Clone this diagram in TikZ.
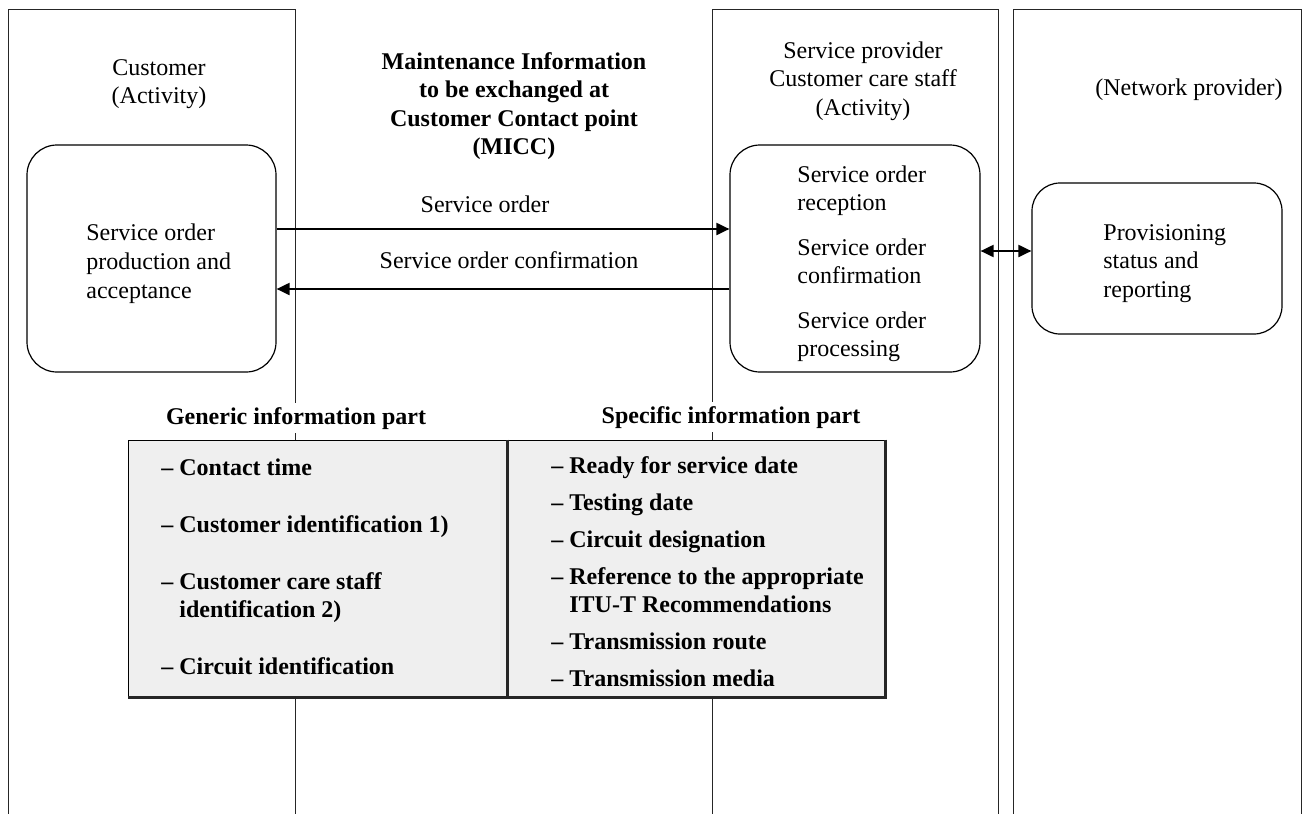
\documentclass[tikz,border=0pt]{standalone}
\usepackage{fontspec}
\setmainfont{Liberation Serif}
\usetikzlibrary{arrows.meta}

\definecolor{panelgray}{HTML}{EFEFEF}

% multi-line text blocks whose base anchor is the first baseline
\newcommand\linesc[1]{\begin{tabular}[t]{@{}c@{}}#1\end{tabular}}
\newcommand\linesl[1]{\begin{tabular}[t]{@{}l@{}}#1\end{tabular}}
\newcommand\itemlist[1]{\begin{tabular}[t]{@{}l@{\ }l@{}}#1\end{tabular}}

\tikzset{
  lane/.style={draw=black!85, line width=0.5pt},
  activity/.style={draw, line width=0.6pt, rounded corners=15pt, inner sep=0pt},
  flow/.style={line width=1pt, -{Triangle[length=6.5pt,width=6pt]}},
  flowboth/.style={line width=1pt, {Triangle[length=6.5pt,width=6pt]}-{Triangle[length=6.5pt,width=6pt]}},
  txt/.style={inner sep=0pt, font=\fontsize{12}{14}\selectfont},
  bold/.style={inner sep=0pt, font=\fontsize{12}{14.25}\selectfont\bfseries},
  panel/.style={fill=panelgray, draw=black, line width=0.5pt, inner sep=0pt},
  panelshade/.style={draw=black!85, line width=1.2pt},
  heading/.style={fill=white, inner sep=2pt, font=\fontsize{12}{14}\selectfont\bfseries}
}

\begin{document}
\begin{tikzpicture}[x=0.5pt, y=-0.5pt]
\useasboundingbox (0,0) rectangle (1302,814);

% swim lanes (open at the bottom)
\draw[lane] (8,814) -- (8,9) -- (295,9) -- (295,814);
\draw[lane] (712,814) -- (712,9) -- (998,9) -- (998,814);
\draw[lane] (1013,814) -- (1013,9) -- (1301,9) -- (1301,814);

% lane titles
\node[txt, anchor=base] (custtitle) at (159,75) {\linesc{Customer\\(Activity)}};
\node[bold, anchor=base] (micc) at (514,69)
  {\linesc{Maintenance Information\\to be exchanged at\\Customer Contact point\\(MICC)}};
\node[txt, font=\fontsize{12}{14.25}\selectfont, anchor=base] (sptitle) at (863,58)
  {\linesc{Service provider\\Customer care staff\\(Activity)}};
\node[txt, anchor=base] (nptitle) at (1189,95) {(Network provider)};

% activities
\node[activity, minimum width=124.5pt, minimum height=113.5pt] (cust) at (151.5,258.5) {};
\node[activity, minimum width=125pt, minimum height=113.5pt] (sp) at (855,258.5) {};
\node[activity, rounded corners=14pt, minimum width=125pt, minimum height=75.5pt] (prov) at (1157,258.5) {};

\node[txt, font=\fontsize{12}{14.5}\selectfont, anchor=base west] (custtext) at (86,240)
  {\linesl{Service order\\production and\\acceptance}};
\node[txt, anchor=base west] (sptext) at (797,182)
  {\linesl{Service order\\reception\\[8.5pt]Service order\\confirmation\\[8.5pt]Service order\\processing}};
\node[txt, font=\fontsize{12}{14.25}\selectfont, anchor=base west] (provtext) at (1103,240)
  {\linesl{Provisioning\\status and\\reporting}};

% message flows
\draw[flow] ([yshift=14.75pt]cust.east) -- ([yshift=14.75pt]sp.west);
\draw[flow] ([yshift=-15.25pt]sp.west) -- ([yshift=-15.25pt]cust.east);
\draw[flowboth] ([yshift=3.75pt]sp.east) -- ([yshift=3.75pt]prov.west);

\node[txt, anchor=base] (orderlbl) at (485,212) {Service order};
\node[txt, anchor=base] (confirmlbl) at (509,268) {Service order confirmation};

% information panels
\node[panel, minimum width=189.5pt, minimum height=128.5pt] (genbox) at (317.5,568.5) {};
\node[panel, minimum width=189pt, minimum height=128.5pt] (specbox) at (696,568.5) {};
\draw[panelshade] (genbox.north east) -- (genbox.south east) -- (genbox.south west);
\draw[panelshade] (specbox.north east) -- (specbox.south east) -- (specbox.south west);

\node[heading, anchor=base] (genhead) at (296,424) {Generic information part};
\node[heading, anchor=base] (spechead) at (731,423) {Specific information part};

\node[bold, font=\fontsize{12}{14}\selectfont\bfseries, anchor=base west] (genlist) at (161,475)
  {\itemlist{–&Contact time\\[14.5pt]
             –&Customer identification 1)\\[14.5pt]
             –&Customer care staff\\
              &identification 2)\\[14.5pt]
             –&Circuit identification}};
\node[bold, font=\fontsize{12}{14}\selectfont\bfseries, anchor=base west] (speclist) at (551,473)
  {\itemlist{–&Ready for service date\\[4.5pt]
             –&Testing date\\[4.5pt]
             –&Circuit designation\\[4.5pt]
             –&Reference to the appropriate\\
              &ITU-T Recommendations\\[4.5pt]
             –&Transmission route\\[4.5pt]
             –&Transmission media}};
\end{tikzpicture}
\end{document}
